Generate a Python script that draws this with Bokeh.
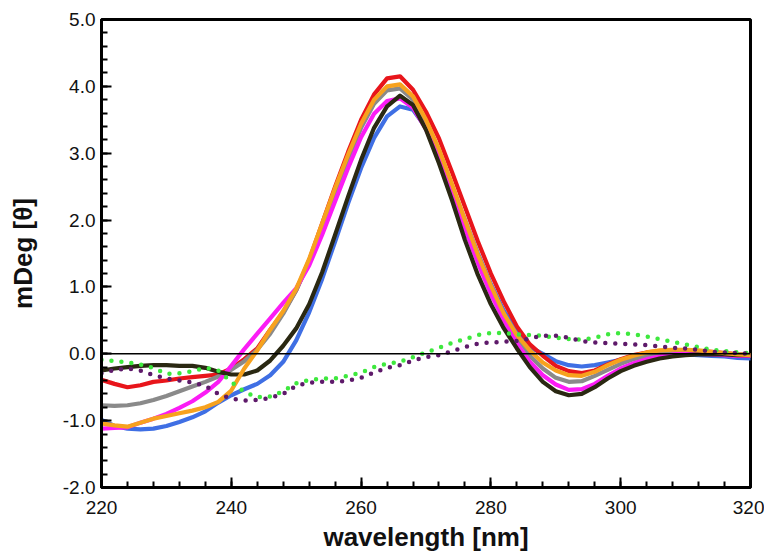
from bokeh.plotting import figure
from bokeh.models import Range1d, SingleIntervalTicker, PrintfTickFormatter, Span
from bokeh.embed import file_html
from bokeh.resources import INLINE

wavelength = list(range(220, 322, 2))

red = [-0.39, -0.45, -0.50, -0.47, -0.42, -0.40, -0.37, -0.35, -0.33, -0.31,
       -0.22, -0.08, 0.08, 0.36, 0.62, 0.95, 1.40, 1.95, 2.50, 3.02,
       3.50, 3.88, 4.12, 4.15, 3.95, 3.62, 3.22, 2.72, 2.20, 1.68,
       1.20, 0.78, 0.41, 0.14, -0.03, -0.18, -0.26, -0.29, -0.25, -0.16,
       -0.08, -0.02, 0.02, 0.04, 0.05, 0.05, 0.04, 0.03, 0.01, -0.01, -0.02]

orange = [-1.04, -1.07, -1.09, -1.03, -0.97, -0.93, -0.89, -0.85, -0.80, -0.72,
          -0.55, -0.22, 0.05, 0.36, 0.64, 0.97, 1.42, 1.95, 2.48, 2.98,
          3.44, 3.80, 4.00, 4.03, 3.85, 3.50, 3.06, 2.54, 2.00, 1.48,
          1.02, 0.60, 0.28, 0.05, -0.13, -0.25, -0.32, -0.33, -0.27, -0.17,
          -0.09, -0.03, 0.02, 0.05, 0.06, 0.06, 0.05, 0.03, 0.01, -0.01, -0.02]

gray = [-0.77, -0.78, -0.77, -0.74, -0.69, -0.63, -0.56, -0.49, -0.42, -0.34,
        -0.24, -0.11, 0.06, 0.30, 0.60, 0.95, 1.38, 1.90, 2.42, 2.92,
        3.38, 3.74, 3.94, 3.97, 3.80, 3.46, 3.01, 2.49, 1.95, 1.43,
        0.96, 0.56, 0.22, -0.03, -0.22, -0.36, -0.42, -0.41, -0.33, -0.24,
        -0.15, -0.08, -0.03, 0.00, 0.02, 0.03, 0.03, 0.02, 0.00, -0.01, -0.02]

magenta = [-1.12, -1.11, -1.10, -1.03, -0.97, -0.90, -0.81, -0.71, -0.58, -0.42,
           -0.18, 0.07, 0.30, 0.53, 0.76, 0.98, 1.32, 1.78, 2.28, 2.78,
           3.24, 3.59, 3.78, 3.82, 3.68, 3.36, 2.92, 2.40, 1.87, 1.36,
           0.89, 0.50, 0.16, -0.12, -0.32, -0.46, -0.54, -0.53, -0.45, -0.33,
           -0.22, -0.14, -0.08, -0.04, -0.01, 0.00, 0.00, -0.01, -0.02, -0.03, -0.03]

dark = [-0.25, -0.22, -0.20, -0.18, -0.17, -0.17, -0.18, -0.18, -0.21, -0.27,
        -0.31, -0.31, -0.25, -0.10, 0.12, 0.38, 0.74, 1.22, 1.78, 2.35,
        2.90, 3.38, 3.70, 3.86, 3.72, 3.35, 2.85, 2.30, 1.70, 1.18,
        0.74, 0.38, 0.08, -0.20, -0.42, -0.56, -0.62, -0.60, -0.50, -0.37,
        -0.26, -0.18, -0.12, -0.07, -0.04, -0.02, -0.01, -0.01, -0.01, -0.02, -0.02]

blue = [-0.99, -1.08, -1.12, -1.13, -1.12, -1.08, -1.02, -0.95, -0.86, -0.73,
        -0.62, -0.53, -0.45, -0.32, -0.12, 0.20, 0.62, 1.12, 1.68, 2.25,
        2.78, 3.23, 3.55, 3.70, 3.65, 3.38, 2.98, 2.50, 2.00, 1.50,
        1.04, 0.64, 0.34, 0.10, 0.00, -0.11, -0.17, -0.19, -0.17, -0.13,
        -0.09, -0.05, -0.02, -0.01, -0.01, -0.01, -0.02, -0.03, -0.04, -0.06, -0.07]

green_dotted = [-0.09, -0.11, -0.13, -0.16, -0.21, -0.30, -0.29, -0.26, -0.21, -0.25,
                -0.42, -0.57, -0.65, -0.64, -0.56, -0.44, -0.39, -0.37, -0.37, -0.33,
                -0.28, -0.20, -0.15, -0.12, -0.05, 0.02, 0.09, 0.16, 0.22, 0.28,
                0.31, 0.31, 0.29, 0.28, 0.27, 0.24, 0.22, 0.21, 0.24, 0.29,
                0.31, 0.29, 0.26, 0.22, 0.18, 0.14, 0.10, 0.06, 0.04, 0.02, 0.01]

purple_dotted = [-0.29, -0.24, -0.22, -0.25, -0.32, -0.37, -0.40, -0.43, -0.48, -0.60,
                 -0.67, -0.70, -0.69, -0.66, -0.60, -0.48, -0.43, -0.42, -0.42, -0.40,
                 -0.36, -0.28, -0.21, -0.17, -0.10, -0.05, -0.02, 0.04, 0.10, 0.15,
                 0.17, 0.18, 0.19, 0.23, 0.27, 0.27, 0.24, 0.19, 0.17, 0.16,
                 0.15, 0.14, 0.13, 0.11, 0.09, 0.08, 0.06, 0.03, 0.02, 0.01, 0.00]

FONT = "Liberation Sans"

p = figure(frame_width=649, frame_height=468,
           x_range=Range1d(220, 320), y_range=Range1d(-2, 5),
           output_backend="svg", toolbar_location=None,
           min_border_left=101, min_border_top=19, min_border_right=14,
           min_border_bottom=5)

p.background_fill_color = "white"
p.border_fill_color = "white"
p.outline_line_color = "black"
p.outline_line_width = 3
p.xgrid.visible = False
p.ygrid.visible = False

p.add_layout(Span(location=0, dimension="width", line_color="black", line_width=1.6))

solid = [(blue, "#3f6fe4"), (red, "#e8151b"), (gray, "#8a8a8a"),
         (magenta, "#fb1cf5"), (dark, "#2a2812"), (orange, "#f7a21e")]
for ys, col in solid:
    p.line(wavelength, ys, line_color=col, line_width=4.2, line_join="round", line_cap="round")

p.line(wavelength, green_dotted, line_color="#3ee83e", line_width=4.5, line_dash="0 10", line_cap="round")
p.line(wavelength, purple_dotted, line_color="#5e1a6a", line_width=4.5, line_dash="0 10", line_cap="round")

p.xaxis.ticker = SingleIntervalTicker(interval=20, num_minor_ticks=5)
p.yaxis.ticker = SingleIntervalTicker(interval=1, num_minor_ticks=5)
p.yaxis.formatter = PrintfTickFormatter(format="%.1f")

for ax in (p.xaxis[0], p.yaxis[0]):
    ax.axis_line_width = 3
    ax.axis_line_color = "black"
    ax.major_tick_in = 10
    ax.major_tick_out = 0
    ax.minor_tick_in = 6
    ax.minor_tick_out = 0
    ax.major_tick_line_width = 2
    ax.minor_tick_line_width = 2
    ax.major_tick_line_color = "black"
    ax.minor_tick_line_color = "black"
    ax.major_label_text_font = FONT
    ax.major_label_text_font_size = "19px"
    ax.major_label_text_color = "#111111"
    ax.axis_label_text_font = FONT
    ax.axis_label_text_font_style = "bold"
    ax.axis_label_text_font_size = "26px"
    ax.axis_label_text_color = "#111111"

p.xaxis.axis_label = "wavelength [nm]"
p.yaxis.axis_label = "mDeg [θ]"
p.xaxis.major_label_standoff = 13
p.xaxis.axis_label_standoff = 5
p.yaxis.major_label_standoff = 6
p.yaxis.axis_label_standoff = 22

open("out.html", "w").write(file_html(p, INLINE))
